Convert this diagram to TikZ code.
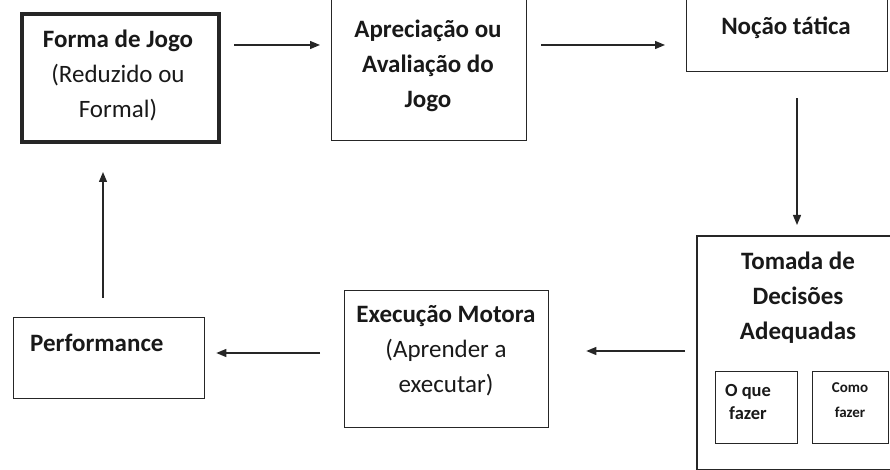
\documentclass[tikz,border=0pt]{standalone}
\usepackage{fontspec}
\setmainfont{Carlito}
\usetikzlibrary{arrows.meta,calc}
\begin{document}
\begin{tikzpicture}[x=1pt,y=-1pt,
  box/.style={draw=black!85, line width=1.3pt, inner sep=0pt, anchor=north west},
  thickbox/.style={box, line width=4pt},
  edge/.style={draw=black!85, line width=1.3pt},
  txt/.style={align=center, inner sep=0pt, text=black!90, font=\fontsize{25}{35}\selectfont},
  small/.style={align=center, inner sep=0pt, text=black!90, font=\fontsize{18.5}{23}\selectfont\bfseries},
  tiny/.style={align=center, inner sep=0pt, text=black!90, font=\fontsize{15}{25}\selectfont\bfseries},
  arr/.style={draw=black!85, line width=1.3pt, -{Triangle[length=10pt,width=8pt]}}]
\useasboundingbox (0,0) rectangle (890,470);
\clip (0,0) rectangle (890,470);
% boxes
\node[thickbox, minimum width=197pt, minimum height=128pt] (b1) at (20,12) {};
\node[box, minimum width=195pt, minimum height=150pt] (b2) at (331,-10) {};
\node[box, minimum width=201pt, minimum height=81pt] (b3) at (686,-10) {};
\node[box, draw=none, minimum width=220pt, minimum height=232pt] (b4) at (697,236) {};
\path[edge] (b4.north east) -- (b4.north west) -- (b4.south west) -- (b4.south east);
\node[box, minimum width=82pt, minimum height=72pt] (b4a) at (715,371) {};
\node[box, minimum width=76pt, minimum height=72pt] (b4b) at (812,371) {};
\node[box, minimum width=204pt, minimum height=137pt] (b5) at (344,290) {};
\node[box, minimum width=191pt, minimum height=81pt] (b6) at (13,317) {};
% texts
\node[txt] (t1) at (118,75) {\textbf{Forma de Jogo}\\(Reduzido ou\\Formal)};
\node[txt] (t2) at (428,66) {\textbf{Apreciação ou}\\\textbf{Avaliação do}\\\textbf{Jogo}};
\node[txt] (t3) at (786,28) {\textbf{Noção tática}};
\node[txt] (t4) at (798,298) {\textbf{Tomada de}\\\textbf{Decisões}\\\textbf{Adequadas}};
\node[small] (t4a) at (748,402) {O que\\fazer};
\node[tiny] (t4b) at (850,400) {Como\\fazer};
\node[txt] (t5) at (446,351) {\textbf{Execução Motora}\\(Aprender a\\executar)};
\node[txt, anchor=west] (t6) at (30,343) {\textbf{Performance}};
% connector levels
\coordinate (r1) at (0,45);
\coordinate (r2) at (0,351);
\coordinate (r3) at (0,353);
\coordinate (c1) at (797,0);
\coordinate (c2) at (103,0);
\draw[arr, shorten <=13pt, shorten >=11pt] (b1.east |- r1) -- (b2.west |- r1);
\draw[arr, shorten <=14pt, shorten >=21pt] (b2.east |- r1) -- (b3.west |- r1);
\draw[arr, shorten <=26pt, shorten >=11pt] (b3.south -| c1) -- (b4.north -| c1);
\draw[arr, shorten <=12pt, shorten >=37pt] (b4.west |- r2) -- (b5.east |- r2);
\draw[arr, shorten <=24pt, shorten >=11pt] (b5.west |- r3) -- (b6.east |- r3);
\draw[arr, shorten <=19pt, shorten >=28pt] (b6.north -| c2) -- (b1.south -| c2);
\end{tikzpicture}
\end{document}
